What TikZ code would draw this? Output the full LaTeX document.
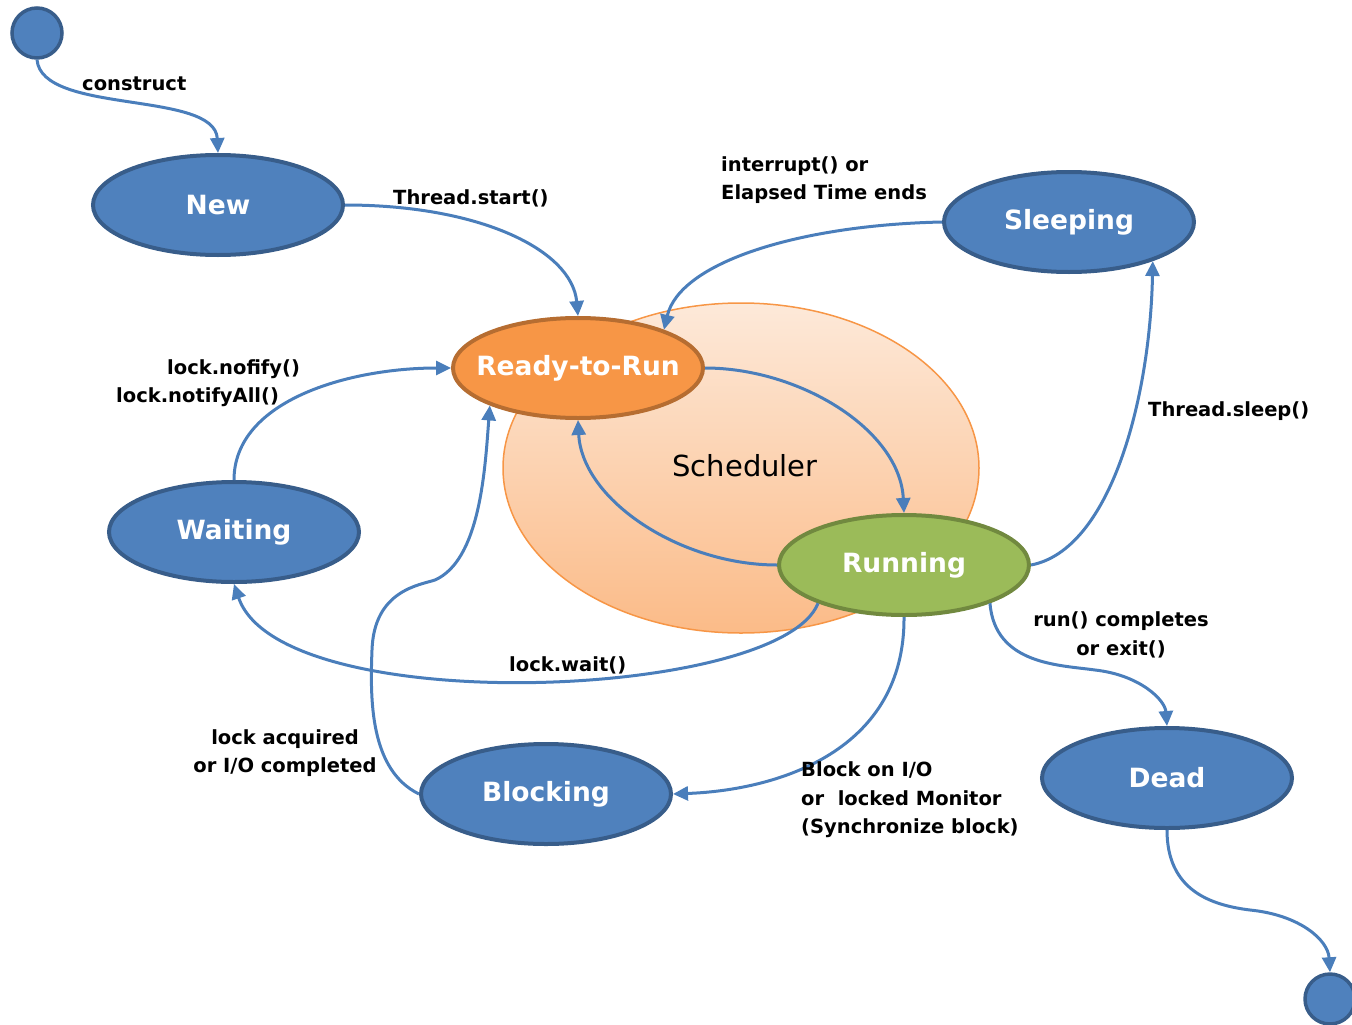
\documentclass[tikz,border=0pt]{standalone}
\usepackage{fontspec}
\setmainfont{DejaVu Sans}
\usetikzlibrary{shapes.geometric,arrows.meta}
\definecolor{stblue}{HTML}{4F81BD}
\definecolor{stblueb}{HTML}{385D8A}
\definecolor{storange}{HTML}{F79646}
\definecolor{storangeb}{HTML}{B66D31}
\definecolor{stgreen}{HTML}{9BBB59}
\definecolor{stgreenb}{HTML}{71893F}
\definecolor{edgeblue}{HTML}{4A7EBB}
\definecolor{schtop}{HTML}{FDE9D9}
\definecolor{schbot}{HTML}{FBBB88}
\tikzset{
  statebox/.style={ellipse, minimum width=250pt, minimum height=100pt, inner sep=0pt,
    line width=4pt, text=white, font=\bfseries\fontsize{26.5}{30}\selectfont},
  bluestate/.style={statebox, fill=stblue, draw=stblueb},
  dotstate/.style={circle, minimum size=50pt, inner sep=0pt, fill=stblue, draw=stblueb, line width=3.5pt},
  conn/.style={draw=edgeblue, line width=3pt, -{Triangle[length=15pt,width=14pt]}},
  lbl/.style={inner sep=0pt, font=\bfseries\fontsize{19.5}{28.5}\selectfont, text=black}
}
\newcommand{\zb}[1]{\makebox[0pt][c]{#1}}
\begin{document}
\begin{tikzpicture}[x=1pt,y=-1pt]
\useasboundingbox (0,0) rectangle (1352,1025);
% scheduler
\node[ellipse, minimum width=476pt, minimum height=330pt, inner sep=0pt,
  top color=schtop, bottom color=schbot, draw=storange, line width=1.5pt] (sched) at (741,468) {};
\node[inner sep=0pt, font=\fontsize{29}{32}\selectfont] (schedlbl) at (745,466) {Scheduler};
% states
\node[dotstate] (start) at (37,33) {};
\node[bluestate] (new) at (218,205) {\zb{New}};
\node[bluestate] (sleep) at (1069,222) {\zb{Sleeping}};
\node[statebox, fill=storange, draw=storangeb] (ready) at (578,368) {\zb{Ready-to-Run}};
\node[statebox, fill=stgreen, draw=stgreenb] (run) at (904,565) {\zb{Running}};
\node[bluestate] (wait) at (234,532) {\zb{Waiting}};
\node[bluestate] (block) at (546,794) {\zb{Blocking}};
\node[bluestate] (dead) at (1167,778) {\zb{Dead}};
\node[dotstate] (end) at (1330,999) {};
% connectors
\draw[conn] (start.south) .. controls (42,115) and (215,90) .. (new.north);
\draw[conn] (new.east) .. controls (480,205) and (572,250) .. (ready.north);
\draw[conn] (sleep.west) .. controls (800,225) and (680,262) .. (ready.24);
\draw[conn] (ready.east) .. controls (800,368) and (900,430) .. (run.north);
\draw[conn] (run.west) .. controls (680,565) and (582,500) .. (ready.south);
\draw[conn] (run.east) .. controls (1110,550) and (1150,400) .. (sleep.-25);
\draw[conn] (run.-156) .. controls (780,700) and (280,720) .. (wait.south);
\draw[conn] (wait.north) .. controls (234,400) and (350,368) .. (ready.west);
\draw[conn] (block.west) .. controls (370,770) and (370,700) .. (372,650)
  .. controls (374,590) and (420,585) .. (435,580)
  .. controls (480,560) and (485,470) .. (ready.-157);
\draw[conn] (run.south) .. controls (905,750) and (780,790) .. (block.east);
\draw[conn] (run.-24) .. controls (995,665) and (1060,665) .. (1095,670)
  .. controls (1140,675) and (1165,700) .. (dead.north);
\draw[conn] (dead.south) .. controls (1167,890) and (1210,905) .. (1250,910)
  .. controls (1300,915) and (1328,940) .. (end.north);
% labels
\node[lbl, anchor=west] (lconstruct) at (82,84) {construct};
\node[lbl, anchor=west] (lstart) at (393,198) {Thread.start()};
\node[lbl, anchor=west, align=left] (lint) at (721,180) {interrupt() or\\Elapsed Time ends};
\node[lbl, anchor=west] (lnotify) at (167,369) {lock.nofify()};
\node[lbl, anchor=west] (lnotifyall) at (116,397) {lock.notifyAll()};
\node[lbl, anchor=west] (lsleep) at (1148,411) {Thread.sleep()};
\node[lbl, anchor=west] (lwait) at (509,665) {lock.wait()};
\node[lbl, align=center] (lexit) at (1121,635) {run() completes\\or exit()};
\node[lbl, align=center] (lacq) at (285,753) {lock acquired\\or I/O completed};
\node[lbl, anchor=west, align=left] (lblock) at (801,800) {Block on I/O\\or\ \ locked Monitor\\(Synchronize block)};
\end{tikzpicture}
\end{document}
